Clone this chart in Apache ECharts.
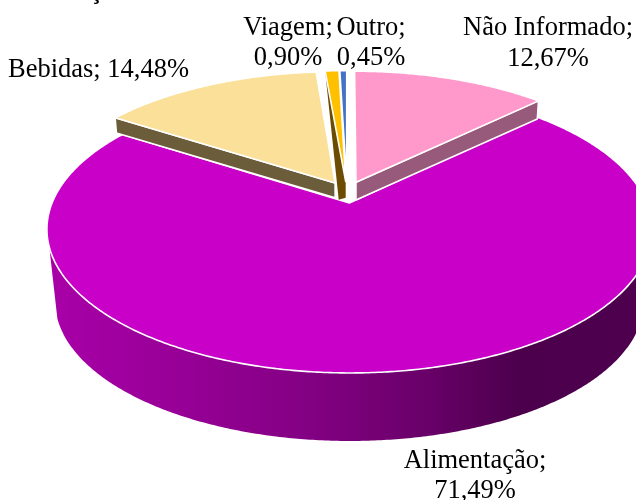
<!DOCTYPE html>
<html>
<head>
<meta charset="utf-8">
<style>html,body{margin:0;padding:0;background:#fff}#c{width:636px;height:500px}</style>
<script src="https://cdn.jsdelivr.net/npm/echarts@6/dist/echarts.min.js"></script>
</head>
<body>
<div id="c"></div>
<script>
const categories = ['Não Informado', 'Alimentação', 'Bebidas', 'Viagem', 'Outro'];
const values = [12.67, 71.49, 14.48, 0.90, 0.45];
const topColors = ['#FF99CC', '#C800C8', '#FBE09A', '#FFC000', '#4472C4'];
const sideColors = ['#985A7A', null, '#6B5C3A', '#6B4C00', null];
const labelBreaks = [true, true, false, true, true];
const clippedTitle = 'ç';

// Perspective model of the tilted pie
const CX = 347, CY = 192.1, RX = 293, RY = 134.6, P = 0.182, EXPLODE = 0.08;
const VX = 349, VY = 2892;
const depthScale = [0.9935, 0.973, 0.9945, 0.994, 0.994];
const labelLayout = [[548, 28.5, 31], [475, 461, 30], [98.5, 70, 30], [288, 28.5, 30], [371, 28.5, 30]];

function rad(d) { return d * Math.PI / 180; }
function project(X, Y) { const w = 1 - P * Y; return [CX + RX * X / w, CY + RY * Y / w]; }
function down(pt, s) { return [VX + (pt[0] - VX) * s, VY + (pt[1] - VY) * s]; }

const total = values.reduce((a, b) => a + b, 0);
const starts = [];
values.reduce((acc, v, i) => { starts[i] = acc; return acc + v; }, 0);

function sliceGeom(i) {
  const a0 = starts[i] / total * 360, a1 = (starts[i] + values[i]) / total * 360, mid = (a0 + a1) / 2;
  const ox = EXPLODE * Math.sin(rad(mid)), oy = -EXPLODE * Math.cos(rad(mid));
  const at = d => project(ox + Math.sin(rad(d)), oy - Math.cos(rad(d)));
  return { a0, a1, apex: project(ox, oy), at };
}
function arc(g, a, b) {
  const n = Math.max(2, Math.ceil(Math.abs(b - a) * 2)), pts = [];
  for (let k = 0; k <= n; k++) pts.push(g.at(a + (b - a) * k / n));
  return pts;
}

const wallGradient = {
  type: 'linear', global: true, x: 48, y: 0, x2: 636, y2: 0,
  colorStops: [
    { offset: 0, color: '#A800A8' }, { offset: 0.2, color: '#990099' },
    { offset: 0.45, color: '#820082' }, { offset: 0.65, color: '#680068' },
    { offset: 0.8, color: '#4C004C' }, { offset: 1, color: '#4E004E' }
  ]
};
const stroke = { stroke: '#fff', lineWidth: 1.6, lineJoin: 'round' };

function renderItem(params, api) {
  const i = params.dataIndex, g = sliceGeom(i), s = depthScale[i], kids = [];
  const top = [g.apex].concat(arc(g, g.a0, g.a1));
  const isMain = i === 1;
  if (isMain) {
    const front = arc(g, 107, 252.5);
    const poly = front.concat(front.map(p => down(p, s)).reverse());
    kids.push({ type: 'polygon', z2: 1, shape: { points: poly }, style: { fill: wallGradient } });
  } else if (i === 0) {
    const t = g.at(g.a1);
    kids.push({ type: 'polygon', z2: 3, shape: { points: [g.apex, t, down(t, s), down(g.apex, s)] }, style: Object.assign({ fill: sideColors[i] }, stroke) });
  } else if (i === 2) {
    const t = g.at(g.a0);
    kids.push({ type: 'polygon', z2: 3, shape: { points: [g.apex, t, down(t, s), down(g.apex, s)] }, style: Object.assign({ fill: sideColors[i] }, stroke) });
  } else if (i === 3) {
    const t = g.at(g.a0), b = down(g.apex, s);
    kids.push({ type: 'polygon', z2: 3, shape: { points: [t, g.apex, b, [b[0] - 7, b[1] + 2]] }, style: { fill: sideColors[i] } });
  }
  kids.push({ type: 'polygon', z2: isMain ? 2 : 4, shape: { points: top }, style: Object.assign({ fill: topColors[i] }, stroke) });
  const l = labelLayout[i];
  const pct = api.value(0).toFixed(2).replace('.', ',') + '%';
  kids.push({
    type: 'text', z2: 10,
    style: {
      text: categories[i] + ';' + (labelBreaks[i] ? '\n' : ' ') + pct,
      x: l[0], y: l[1] - l[2] / 2, align: 'center', verticalAlign: 'top',
      lineHeight: l[2], fontFamily: 'Liberation Serif', fontSize: 26.5, fill: '#000'
    }
  });
  if (i === 0) {
    kids.push({
      type: 'text', z2: 10,
      style: {
        text: clippedTitle, x: 96, y: -19.5, align: 'center', verticalAlign: 'top',
        fontFamily: 'Liberation Serif', fontWeight: 'bold', fontSize: 24, fill: '#000'
      }
    });
  }
  return { type: 'group', children: kids };
}

const chart = echarts.init(document.getElementById('c'), null, { renderer: 'canvas', width: 636, height: 500 });
chart.setOption({
  animation: false,
  backgroundColor: '#fff',
  series: [{
    type: 'custom',
    coordinateSystem: 'none',
    renderItem,
    data: values.map((v, i) => ({ name: categories[i], value: [v] }))
  }]
});
</script>
</body>
</html>
